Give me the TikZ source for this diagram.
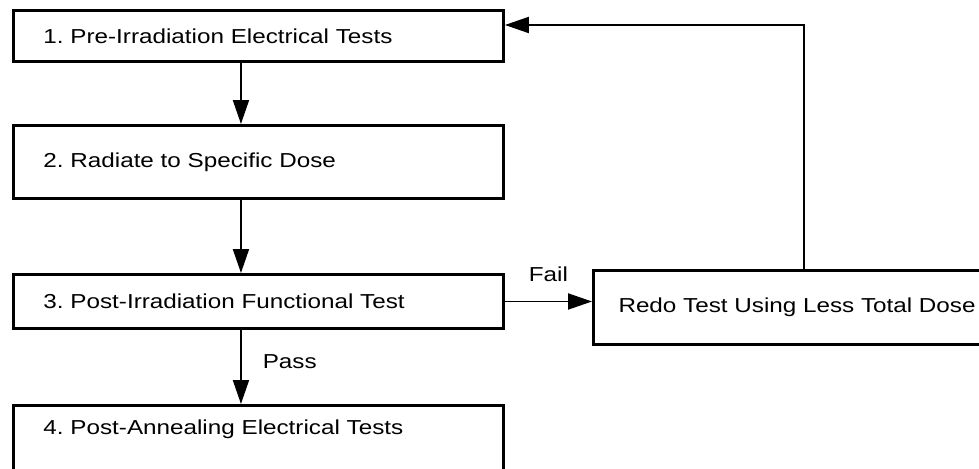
\documentclass[tikz,border=0pt]{standalone}
\usepackage{fontspec}
\setmainfont{Liberation Sans}[FakeStretch=1.2]
\usetikzlibrary{arrows.meta}

\begin{document}
\begin{tikzpicture}[x=0.02cm, y=-0.02cm,
  box/.style={draw, line width=1.7pt, anchor=north west, align=left,
    inner xsep=0.6cm, text width=8.6cm, font=\fontsize{11.5}{14}\selectfont\frenchspacing},
  link/.style={line width=1.1pt, -{Triangle[length=0.48cm,width=0.32cm]}},
  tag/.style={font=\fontsize{11.5}{14}\selectfont}]
% рамка
\useasboundingbox (0,0) rectangle (979,469);
\clip (0,0) rectangle (979,469);
% блоки
\node [box, minimum height=1.02cm] (pre) at (12,9) {1. Pre-Irradiation Electrical Tests};
\node [box, minimum height=1.46cm] (rad) at (12,124) {2. Radiate to Specific Dose};
\node [box, minimum height=1.08cm] (post) at (12,273) {3. Post-Irradiation Functional Test};
\node [box, inner ysep=0.08cm, text height=0.5cm, text depth=1.6cm] (anneal) at (12,404) {4. Post-Annealing Electrical Tests};
\node [box, inner xsep=0.5cm, text width=9cm, minimum height=1.48cm] (redo) at (592,269) {Redo Test Using Less Total Dose};
% стрелки
\draw [link] ([xshift=4.58cm]pre.south west) -- ([xshift=4.58cm]rad.north west);
\draw [link] ([xshift=4.58cm]rad.south west) -- ([xshift=4.58cm]post.north west);
\draw [link] ([xshift=4.58cm]post.south west) -- ([xshift=4.58cm]anneal.north west)
  node [tag, midway, right=0.3cm, yshift=0.1cm] (pass) {Pass};
\draw [link] (post.east) -- (post.east -| redo.west)
  node [tag, midway, above=0.26cm] (fail) {Fail};
% возврат
\coordinate (back) at (804,25);
\draw [link] (redo.north west -| back) -- (back) -- (back -| pre.east);
\end{tikzpicture}
\end{document}
